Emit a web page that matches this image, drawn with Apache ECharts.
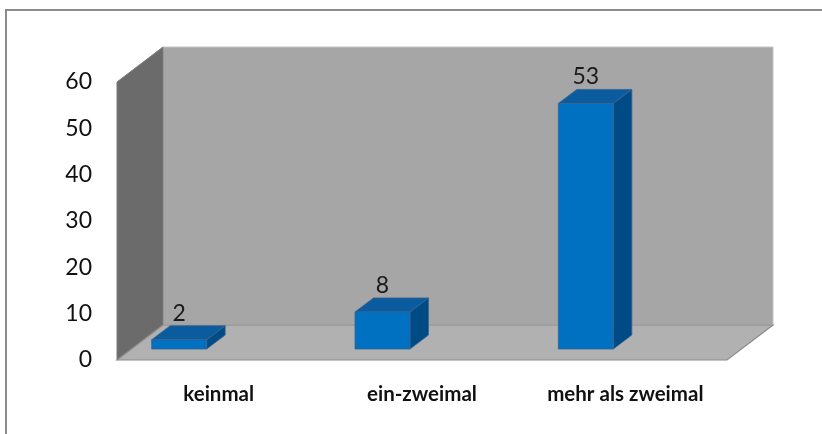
<!DOCTYPE html>
<html>
<head>
<meta charset="utf-8">
<script src="https://cdn.jsdelivr.net/npm/echarts@6/dist/echarts.min.js"></script>
<style>
  html, body { margin: 0; padding: 0; background: #fff; }
  #chart { width: 822px; height: 434px; }
</style>
</head>
<body>
<div id="chart"></div>
<script>
// Häufigkeit – drei Antwortkategorien
const categories = ['keinmal', 'ein-zweimal', 'mehr als zweimal'];
const counts = [2, 8, 53];
const yTicks = [0, 10, 20, 30, 40, 50, 60];

// 3D look: depth of the wall box and of each column (pixels)
const DEPTH_X = 46, DEPTH_Y = 35;
const BAR_SHIFT_X = -39.5, BAR_LIFT = 11, BAR_W = 55;
const BAR_DX = 18.5, BAR_DY = 14;

const FONT = 'Lato, "Open Sans", sans-serif';

const chart = echarts.init(document.getElementById('chart'));

function wallsRender(params, api) {
  const cs = params.coordSys;
  const x0 = cs.x, x1 = cs.x + cs.width;
  const yb = api.coord([0, yTicks[0]])[1];
  const yt = api.coord([0, yTicks[yTicks.length - 1]])[1];
  const P = (x, y) => [x + DEPTH_X, y - DEPTH_Y];
  return {
    type: 'group',
    children: [
      { // back wall
        type: 'polygon',
        shape: { points: [P(x0, yt), P(x1, yt), P(x1, yb), P(x0, yb)] },
        style: { fill: '#a6a6a6', stroke: '#c4c4c4', lineWidth: 1 }
      },
      { // left wall
        type: 'polygon',
        shape: { points: [[x0, yt], P(x0, yt), P(x0, yb), [x0, yb]] },
        style: { fill: '#6b6b6b', stroke: '#7a7a7a', lineWidth: 1 }
      },
      { // floor
        type: 'polygon',
        shape: { points: [[x0, yb], P(x0, yb), P(x1, yb), [x1, yb]] },
        style: { fill: '#b1b1b1', stroke: '#8c8c8c', lineWidth: 1.2 }
      }
    ]
  };
}

function barRender(params, api) {
  const i = api.value(0), v = api.value(1);
  const base = api.coord([i, 0]);
  const top = api.coord([i, v]);
  const xl = base[0] + BAR_SHIFT_X - BAR_W / 2;
  const xr = xl + BAR_W;
  const yb = base[1] - BAR_LIFT;
  const ytp = top[1] - BAR_LIFT;
  const edge = { stroke: '#3a6390', lineWidth: 0.8, lineJoin: 'round' };
  return {
    type: 'group',
    children: [
      { // side face
        type: 'polygon',
        shape: { points: [[xr, ytp], [xr + BAR_DX, ytp - BAR_DY], [xr + BAR_DX, yb - BAR_DY], [xr, yb]] },
        style: Object.assign({ fill: '#004b85' }, edge)
      },
      { // top face
        type: 'polygon',
        shape: { points: [[xl, ytp], [xl + BAR_DX, ytp - BAR_DY], [xr + BAR_DX, ytp - BAR_DY], [xr, ytp]] },
        style: Object.assign({ fill: '#0b5b9f' }, edge)
      },
      { // front face
        type: 'rect',
        shape: { x: xl, y: ytp, width: BAR_W, height: yb - ytp },
        style: Object.assign({ fill: '#0070c0' }, edge)
      },
      { // value label
        type: 'text',
        style: {
          x: (xl + xr) / 2, y: ytp - BAR_DY - 1,
          text: String(v),
          align: 'center', verticalAlign: 'bottom',
          fill: '#1a1a1a', fontSize: 23, fontFamily: FONT
        }
      }
    ]
  };
}

chart.setOption({
  animation: false,
  backgroundColor: '#ffffff',
  graphic: [{
    type: 'rect',
    shape: { x: 6, y: 10, width: 840, height: 450 },
    style: { fill: 'none', stroke: '#8c8c8c', lineWidth: 2 },
    z: 100
  }],
  grid: { left: 117, right: 95, top: 82, bottom: 74 },
  xAxis: {
    type: 'category',
    data: categories,
    boundaryGap: true,
    axisLine: { show: false },
    axisTick: { show: false },
    axisLabel: {
      margin: 24, color: '#111', fontSize: 20.5, fontWeight: 'bold', fontFamily: FONT
    }
  },
  yAxis: {
    type: 'value',
    min: yTicks[0],
    max: yTicks[yTicks.length - 1],
    interval: 10,
    splitLine: { show: false },
    axisLine: { show: false },
    axisTick: { show: false },
    axisLabel: {
      margin: 25, color: '#111', fontSize: 23, fontFamily: FONT,
      padding: [5, 0, 0, 0]
    }
  },
  series: [
    {
      type: 'custom',
      renderItem: wallsRender,
      data: [[0, 0]],
      silent: true,
      z: 1
    },
    {
      type: 'custom',
      renderItem: barRender,
      data: counts.map((v, i) => [i, v]),
      z: 2
    }
  ]
});
</script>
</body>
</html>
